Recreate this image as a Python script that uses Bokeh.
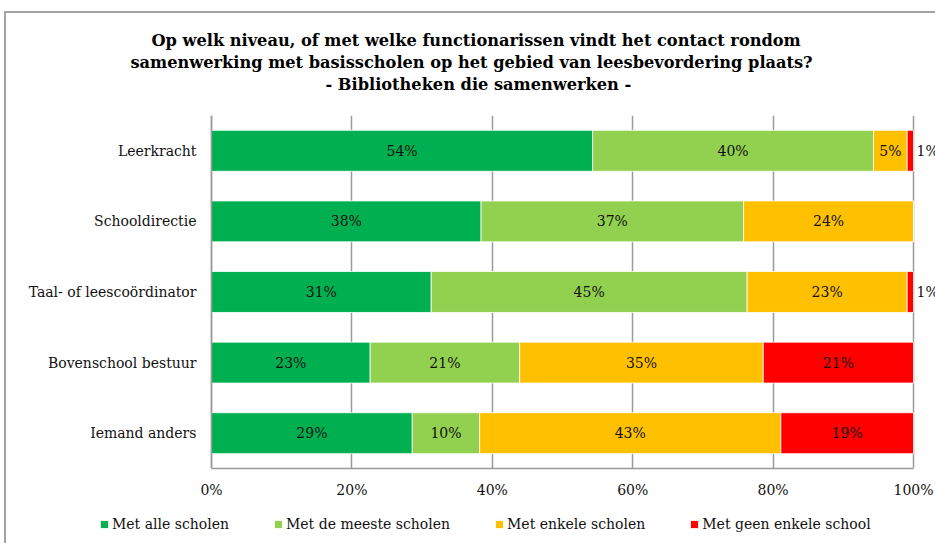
from bokeh.plotting import figure
from bokeh.layouts import column
from bokeh.models import (ColumnDataSource, FactorRange, Range1d, FixedTicker,
                          PrintfTickFormatter, LabelSet, Title, Legend, LegendItem,
                          Span)
from bokeh.core.properties import value
from bokeh.embed import file_html
from bokeh.resources import INLINE

# ---- data ----
categories = ["Leerkracht", "Schooldirectie", "Taal- of leescoördinator",
              "Bovenschool bestuur", "Iemand anders"]
met_alle = [54.3, 38.4, 31.3, 22.6, 28.6]
met_meeste = [40.0, 37.4, 45.0, 21.3, 9.6]
met_enkele = [4.8, 24.2, 22.8, 34.7, 42.9]
met_geen = [0.9, 0.0, 0.9, 21.4, 18.9]
series_names = ["Met alle scholen", "Met de meeste scholen",
                "Met enkele scholen", "Met geen enkele school"]
colors = ["#00B050", "#92D050", "#FFC000", "#FF0000"]
x_ticks = [0, 20, 40, 60, 80, 100]
title_lines = ["Op welk niveau, of met welke functionarissen vindt het contact rondom",
               "samenwerking met basisscholen op het gebied van leesbevordering plaats?",
               "- Bibliotheken die samenwerken -"]

FONT = "DejaVu Serif"
BORDER = "#a3a3a3"
AXIS = "#9a9a9a"
series = [met_alle, met_meeste, met_enkele, met_geen]
keys = ["s0", "s1", "s2", "s3"]

src = ColumnDataSource(dict(cat=categories, **{k: v for k, v in zip(keys, series)}))

# page geometry
PW, PH = 935, 543
OX, OY = 6, 13                 # content origin inside the outer chart border
FL, F100, FT, FB = 211, 913, 115, 468
SPLIT = 510                    # page y where the legend strip starts
W = PW - OX
H1 = SPLIT - OY
H2 = PH - SPLIT
px_per_pct = (F100 - FL) / 100.0
x_start = -(FL - OX) / px_per_pct
x_end = (PW - FL) / px_per_pct

p = figure(width=W, height=H1, output_backend="svg", toolbar_location=None,
           y_range=FactorRange(factors=list(reversed(categories)), range_padding=0),
           x_range=Range1d(x_start, x_end), y_axis_location=None,
           min_border_left=0, min_border_right=0, min_border_top=FT - OY,
           min_border_bottom=SPLIT - FB)
p.outline_line_color = None
p.background_fill_color = "white"
p.border_fill_color = "white"

renderers = p.hbar_stack(stackers=keys, y="cat", height=0.58, source=src,
                         fill_color=colors, line_color="white", line_width=0.8)

# x axis (category axis line drawn as a span at 0%)
p.xaxis.ticker = FixedTicker(ticks=x_ticks)
p.xaxis.formatter = PrintfTickFormatter(format="%d%%")
p.xaxis.bounds = (0, 100)
p.xaxis.axis_line_color = AXIS
p.xaxis.axis_line_width = 1.5
p.xaxis.major_tick_line_color = None
p.xaxis.minor_tick_line_color = None
p.xaxis.major_label_text_font = FONT
p.xaxis.major_label_text_font_size = "14px"
p.xaxis.major_label_text_color = "#111111"
p.xaxis.major_label_standoff = 7

p.ygrid.grid_line_color = None
p.xgrid.grid_line_color = AXIS
p.xgrid.grid_line_width = 1.5
p.add_layout(Span(location=0, dimension="height", line_color=AXIS, line_width=1.5))

# category labels
p.add_layout(LabelSet(x="x", y="y", text="t",
                      source=ColumnDataSource(dict(x=[0] * len(categories),
                                                   y=categories, t=categories)),
                      text_align="right", text_baseline="middle", x_offset=-15,
                      text_font=value(FONT), text_font_size="14px",
                      text_color="#111111"))

# data labels
in_x, in_y, in_t, out_x, out_y, out_t = [], [], [], [], [], []
for i, cat in enumerate(categories):
    left = 0.0
    for s in series:
        v = s[i]
        if v >= 2:
            in_x.append(left + v / 2)
            in_y.append(cat)
            in_t.append(f"{round(v)}%")
        elif v > 0:
            out_x.append(100)
            out_y.append(cat)
            out_t.append(f"{round(v)}%")
        left += v

p.add_layout(LabelSet(x="x", y="y", text="t",
                      source=ColumnDataSource(dict(x=in_x, y=in_y, t=in_t)),
                      text_align="center", text_baseline="middle",
                      text_font=value(FONT), text_font_size="14px",
                      text_color="#111111"))
p.add_layout(LabelSet(x="x", y="y", text="t",
                      source=ColumnDataSource(dict(x=out_x, y=out_y, t=out_t)),
                      text_align="left", text_baseline="middle", x_offset=3,
                      text_font=value(FONT), text_font_size="14px",
                      text_color="#111111"))

# title lines: added nearest-first, with a blank spacer line next to the frame
title_left = [151, 130, 325]   # page x where each line starts
for line, lx in [(" ", OX)] + list(reversed(list(zip(title_lines, title_left)))):
    p.add_layout(Title(text=line, align="left", offset=lx - OX,
                       standoff=1 if line.strip() else 0, text_font=FONT,
                       text_font_style="bold", text_font_size="16.2px",
                       text_color="black"), "above")

# legend strip below the chart
q = figure(width=W, height=H2, output_backend="svg", toolbar_location=None,
           x_axis_type=None, y_axis_type=None, x_range=Range1d(0, 1),
           y_range=Range1d(0, 1), min_border_left=0, min_border_right=0,
           min_border_top=0, min_border_bottom=0)
q.outline_line_color = None
q.background_fill_color = "white"
q.border_fill_color = "white"
q.grid.visible = False
dummies = [q.hbar(y=[-10], left=[0], right=[1], height=0.5, fill_color=c,
                  line_color="white", line_width=0.8) for c in colors]
legend = Legend(items=[LegendItem(label=n, renderers=[r])
                       for n, r in zip(series_names, dummies)],
                orientation="horizontal",
                location=(99 - OX, H2 - (522 - SPLIT) - 10),
                padding=0, margin=0, spacing=44,
                glyph_width=10, glyph_height=10, label_standoff=3,
                border_line_color=None, background_fill_alpha=0,
                label_text_font=FONT, label_text_font_size="14px",
                label_text_color="#111111")
q.add_layout(legend, "center")

layout = column(p, q, spacing=0,
                styles={"margin-left": f"{OX - 2}px", "margin-top": f"{OY - 2}px",
                        "border-left": f"2px solid {BORDER}",
                        "border-top": f"2px solid {BORDER}"})
open("out.html", "w").write(file_html(layout, INLINE))
